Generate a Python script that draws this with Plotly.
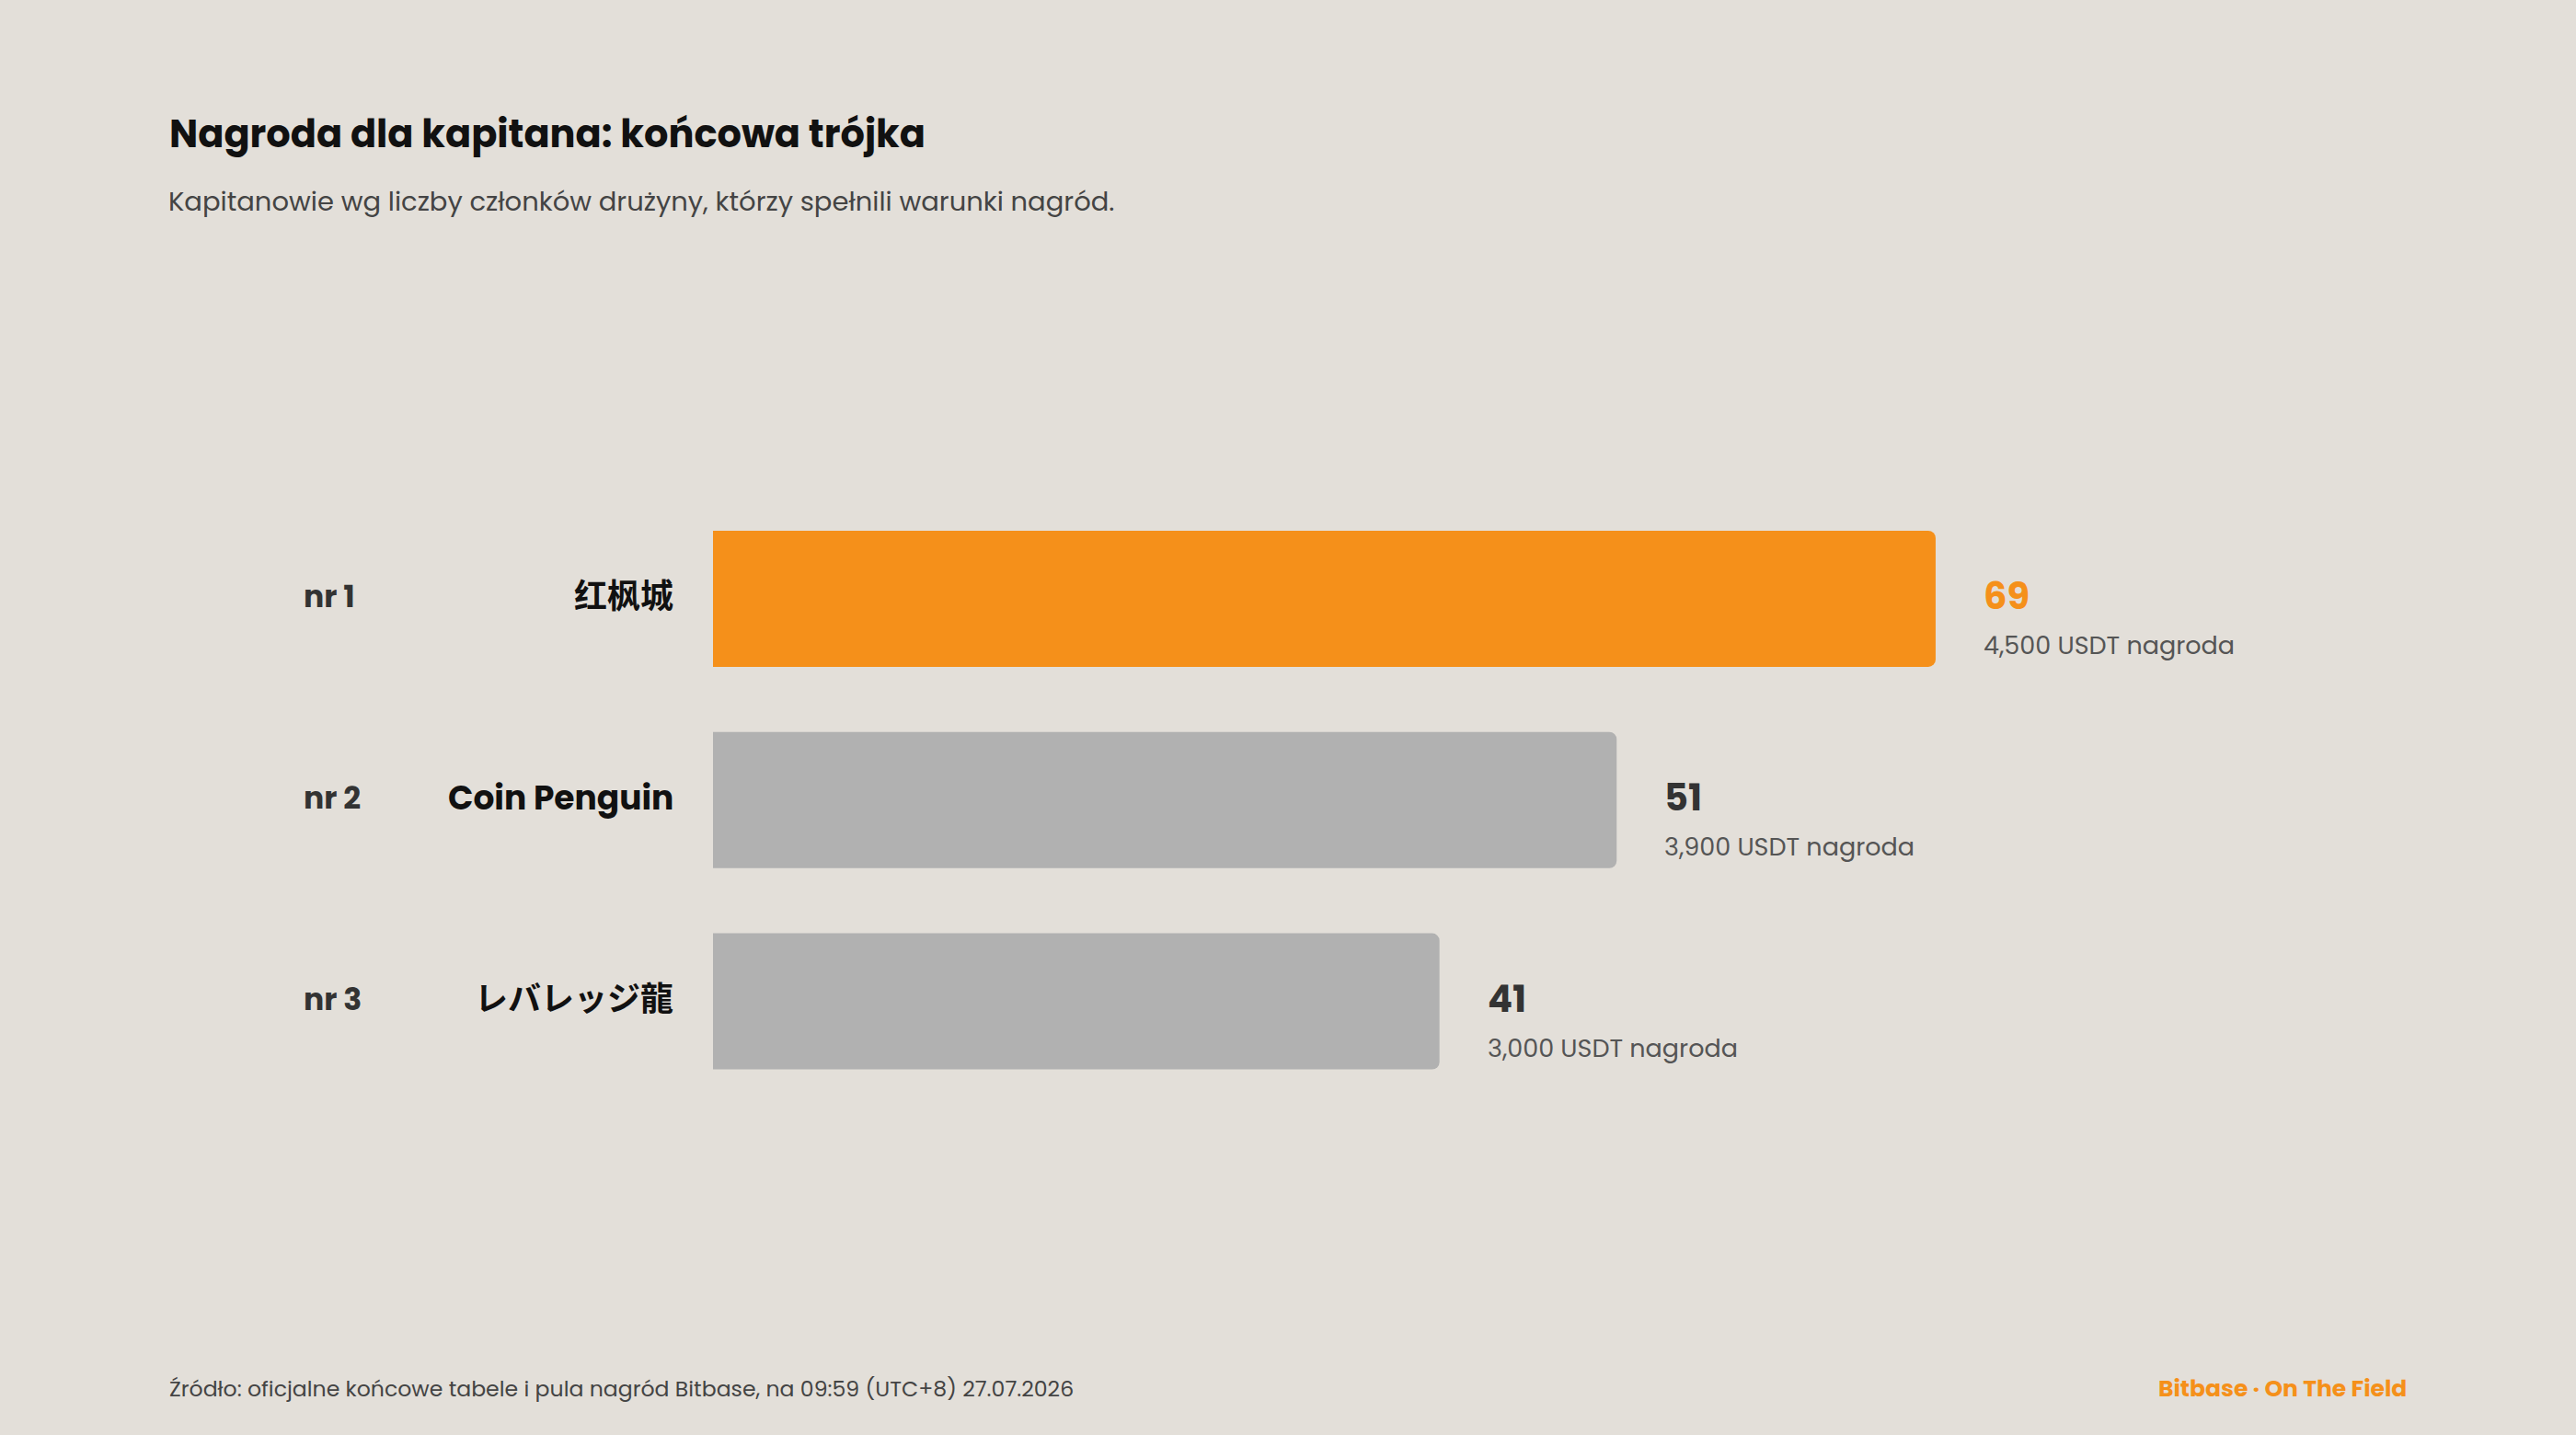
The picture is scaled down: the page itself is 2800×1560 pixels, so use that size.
import plotly.graph_objects as go

# ---- data ----
ranks = ["nr 1", "nr 2", "nr 3"]
captains = ["红枫城", "Coin Penguin", "レバレッジ龍"]
members = [69, 51, 41]
prizes = ["4,500 USDT nagroda", "3,900 USDT nagroda", "3,000 USDT nagroda"]

title = "Nagroda dla kapitana: końcowa trójka"
subtitle = "Kapitanowie wg liczby członków drużyny, którzy spełnili warunki nagród."
source = "Źródło: oficjalne końcowe tabele i pula nagród Bitbase, na 09:59 (UTC+8) 27.07.2026"
brand = "Bitbase · On The Field"

# ---- style ----
W, H = 2800, 1560
BG = "#E3DFD9"
ORANGE = "#F5901A"
GREY = "#B1B1B1"
FONT = "Poppins, Inter, 'Noto Sans CJK SC', 'Noto Sans CJK JP', sans-serif"

colors = [ORANGE if i == 0 else GREY for i in range(len(members))]

fig = go.Figure()
fig.add_trace(go.Bar(
    x=members, y=captains, orientation="h",
    marker=dict(color=colors, line=dict(width=0), cornerradius=8),
    width=0.676, hoverinfo="skip", showlegend=False,
))

x0_px = 775
px_per_unit = 19.26
xmax = 100
x_end_px = x0_px + px_per_unit * xmax
y_top_px = 541.5
y_bot_px = 1198

fig.update_layout(
    width=W, height=H,
    paper_bgcolor=BG, plot_bgcolor=BG,
    margin=dict(l=0, r=0, t=0, b=0),
    xaxis=dict(domain=[x0_px / W, x_end_px / W], range=[0, xmax],
               visible=False, fixedrange=True),
    yaxis=dict(domain=[1 - y_bot_px / H, 1 - y_top_px / H],
               categoryorder="array", categoryarray=captains,
               autorange="reversed", visible=False, fixedrange=True),
    font=dict(family=FONT),
)

ann = []
# title & subtitle
ann.append(dict(text=f"<b>{title}</b>", x=182 / W, y=1 - 145 / H, xref="paper", yref="paper",
                xanchor="left", yanchor="middle", showarrow=False,
                font=dict(size=41.5, color="#111111", family=FONT)))
ann.append(dict(text=subtitle, x=181 / W, y=1 - 219 / H, xref="paper", yref="paper",
                xanchor="left", yanchor="middle", showarrow=False,
                font=dict(size=29, color="#444444", family=FONT)))

for i, (r, c, m, p) in enumerate(zip(ranks, captains, members, prizes)):
    ann.append(dict(text=f"<b>{r}</b>", x=328 / W, y=c, xref="paper", yref="y",
                    xanchor="left", yanchor="middle", showarrow=False, yshift=2,
                    font=dict(size=33, color="#333333", family=FONT)))
    ann.append(dict(text=f"<b>{c}</b>", x=734 / W, y=c, xref="paper", yref="y",
                    xanchor="right", yanchor="middle", showarrow=False, yshift=2,
                    font=dict(size=36, color="#111111", family=FONT)))
    ann.append(dict(text=f"<b>{m}</b>", x=m, y=c, xref="x", yref="y",
                    xanchor="left", yanchor="middle", showarrow=False,
                    xshift=50, yshift=3,
                    font=dict(size=40, color=ORANGE if i == 0 else "#333333", family=FONT)))
    ann.append(dict(text=p, x=m, y=c, xref="x", yref="y",
                    xanchor="left", yanchor="middle", showarrow=False,
                    xshift=50, yshift=-51,
                    font=dict(size=27, color="#555555", family=FONT)))

ann.append(dict(text=source, x=182 / W, y=1 - 1509 / H, xref="paper", yref="paper",
                xanchor="left", yanchor="middle", showarrow=False,
                font=dict(size=23.6, color="#444444", family=FONT)))
ann.append(dict(text=f"<b>{brand}</b>", x=2618 / W, y=1 - 1509 / H, xref="paper", yref="paper",
                xanchor="right", yanchor="middle", showarrow=False,
                font=dict(size=25, color=ORANGE, family=FONT)))

fig.update_layout(annotations=ann)
fig.write_html("out.html")
